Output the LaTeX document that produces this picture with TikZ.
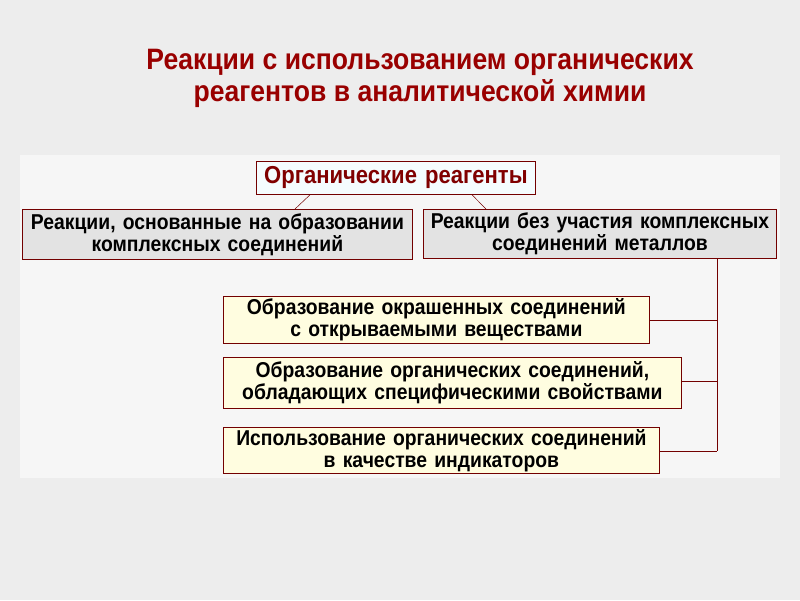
\documentclass[tikz,border=0pt]{standalone}
\usepackage{fontspec}
\setmainfont{Liberation Sans}[FakeStretch=0.9]
\begin{document}
\begin{tikzpicture}[x=1pt,y=-1pt,
  box/.style={draw=red!45!black,line width=0.8pt,minimum height=#1,inner sep=0pt,align=center,font=\bfseries\fontsize{21.5}{22}\selectfont,anchor=north west},
  conn/.style={draw=red!45!black,line width=0.8pt}]
\useasboundingbox (0,0) rectangle (800,600);
\fill[gray!14] (0,0) rectangle (800,600);
\fill[gray!7] (20,155) rectangle (780,478);
\node[text=red!60!black,font=\bfseries\fontsize{29.5}{32}\selectfont,align=center] (title) at (420,78) {Реакции с использованием органических\\реагентов в аналитической химии};
\node[box=33pt,fill=cyan!4,text width=279pt,text=red!50!black,font=\bfseries\fontsize{24.5}{26}\selectfont] (top) at (256,161) {Органические реагенты};
\node[box=50pt,fill=gray!22,text width=390pt] (L) at (22,209) {Реакции, основанные на образовании\\комплексных соединений};
\node[box=49pt,fill=gray!22,text width=353pt] (R) at (423,209) {Реакции без участия комплексных\\соединений металлов};
\node[box=47pt,fill=yellow!12,text width=426pt] (y1) at (223,296) {Образование окрашенных соединений\\с открываемыми веществами};
\node[box=51pt,fill=yellow!12,text width=458pt] (y2) at (223,357) {Образование органических соединений,\\обладающих специфическими свойствами};
\node[box=46pt,fill=yellow!12,text width=436pt] (y3) at (223,427) {Использование органических соединений\\в качестве индикаторов};
\coordinate (c0) at (717,258);
\coordinate (c1) at (717,320);
\coordinate (c2) at (717,381);
\coordinate (c3) at (717,451);
\draw[conn] (c0) -- (c3);
\draw[conn] (y1.east |- c1) -- (c1);
\draw[conn] (y2.east |- c2) -- (c2);
\draw[conn] (y3.east |- c3) -- (c3);
\draw[conn,line width=0.5pt] ([xshift=54pt]top.south west) -- ([xshift=273pt]L.north west);
\draw[conn,line width=0.5pt] ([xshift=216pt]top.south west) -- ([xshift=63pt]R.north west);
\end{tikzpicture}
\end{document}
